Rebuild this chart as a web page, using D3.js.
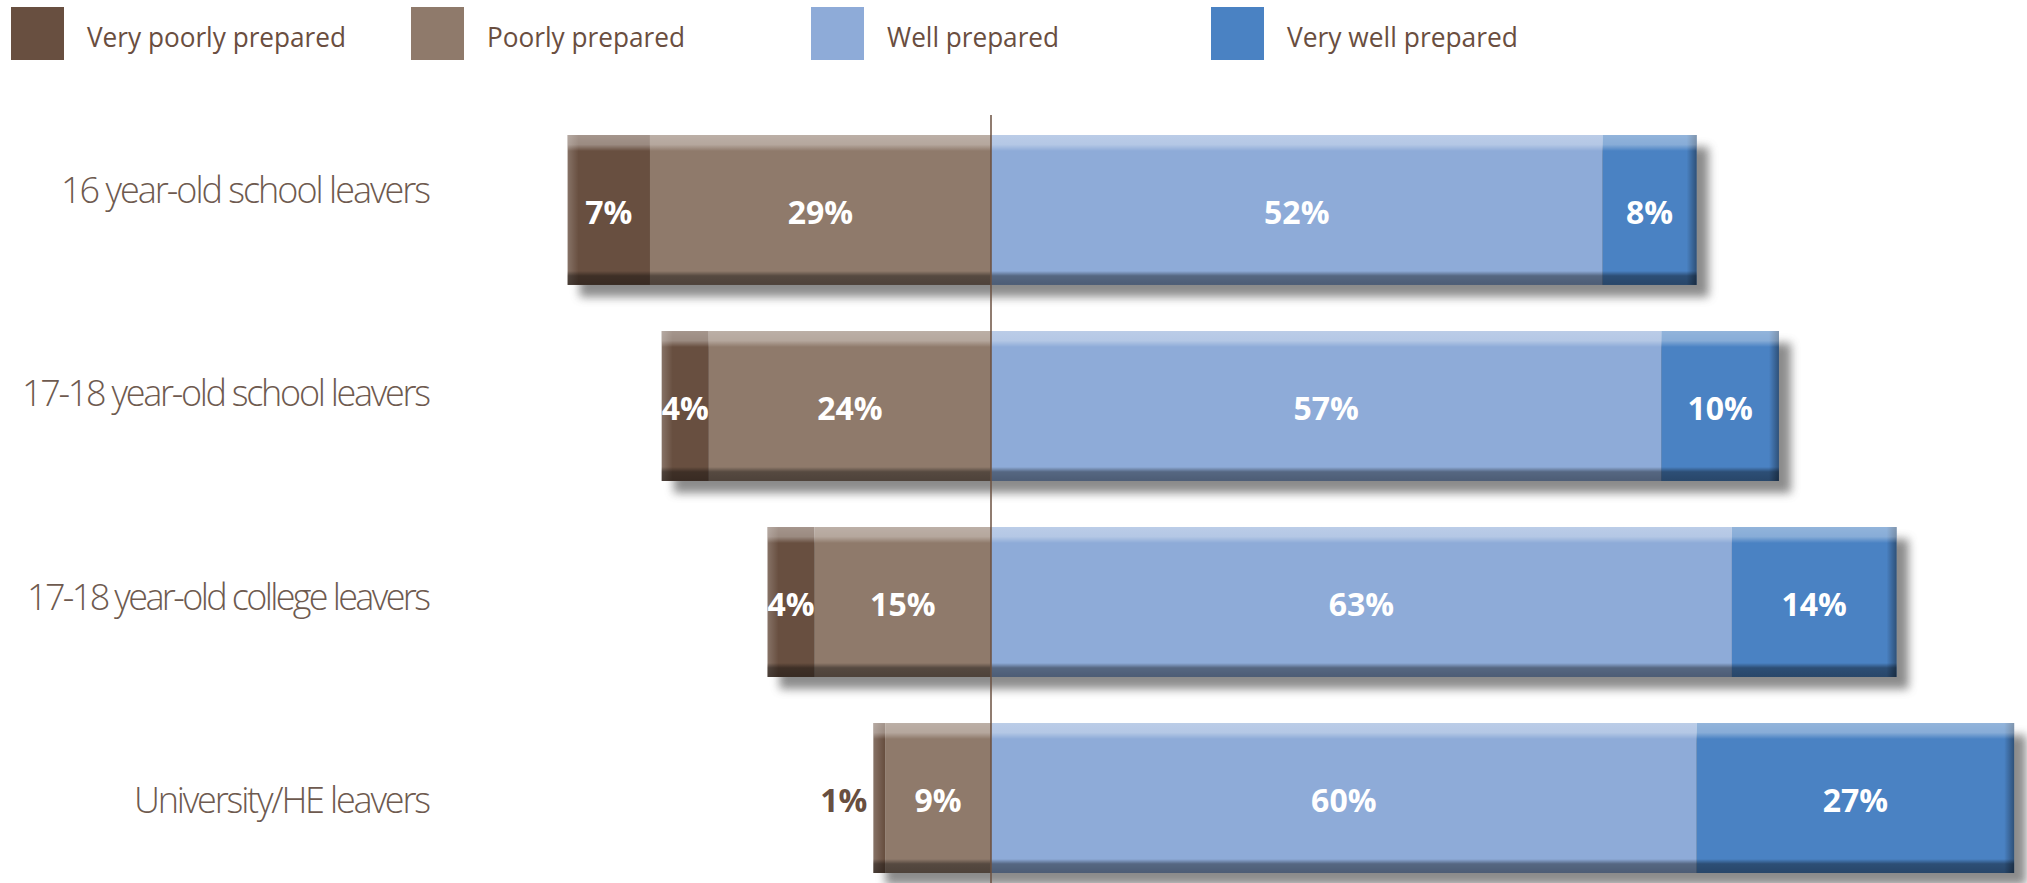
<!DOCTYPE html>
<html>
<head>
<meta charset="utf-8">
<script src="https://cdn.jsdelivr.net/npm/d3@7"></script>
<style>
  html, body { margin: 0; padding: 0; background: #ffffff; }
  svg { display: block; }
</style>
</head>
<body>
<svg id="chart" width="2027" height="883"></svg>
<script>
// Survey: how prepared are leavers for work (share of employers, %)
const categories = [
  "16 year-old school leavers",
  "17-18 year-old school leavers",
  "17-18 year-old college leavers",
  "University/HE leavers"
];
const seriesNames = ["Very poorly prepared", "Poorly prepared", "Well prepared", "Very well prepared"];
const veryPoorly = [7, 4, 4, 1];
const poorly     = [29, 24, 15, 9];
const well       = [52, 57, 63, 60];
const veryWell   = [8, 10, 14, 27];

const colors = ["#684f40", "#8f7a6b", "#8eabd8", "#4a82c3"];

// text widths used to tighten the tracking of the labels
const labelWidths  = [370, 409, 404, 297];
const legendWidths = [259, 198, 172, 231];

const W = 2027, H = 883;
const svg = d3.select("#chart");

// ---- scales ----
const x = d3.scaleLinear().domain([-40, 90]).range([520.6, 2049.4]);
const y = d3.scaleBand().domain(categories).range([135, 873]).paddingInner(0.235);
const yLabel = d3.scalePoint().domain(categories).range([203, 813]);
const legendX = d3.scaleBand().domain(seriesNames).range([11, 1611]);

// ---- diverging stack: negatives to the left of zero ----
const rows = categories.map((c, i) => {
  const vp = veryPoorly[i], p = poorly[i], w = well[i], vw = veryWell[i];
  return {
    cat: c,
    lo: -(vp + p),
    hi: w + vw,
    segs: [
      { s: 0, v: vp, a: -(vp + p), b: -p },
      { s: 1, v: p,  a: -p,        b: 0 },
      { s: 2, v: w,  a: 0,         b: w },
      { s: 3, v: vw, a: w,         b: w + vw }
    ]
  };
});

// ---- defs: shadow blur and bevel gradients ----
const defs = svg.append("defs");
defs.append("filter").attr("id", "soft").attr("x", "-10%").attr("y", "-30%")
    .attr("width", "120%").attr("height", "160%")
  .append("feGaussianBlur").attr("stdDeviation", 5);

function grad(id, vertical, stops) {
  const g = defs.append("linearGradient").attr("id", id)
    .attr("x1", 0).attr("y1", 0)
    .attr("x2", vertical ? 0 : 1).attr("y2", vertical ? 1 : 0);
  stops.forEach(s => g.append("stop").attr("offset", s[0])
    .attr("stop-color", s[1]).attr("stop-opacity", s[2]));
}
grad("gTop", true,  [[0, "#fff", 0.40], [0.6, "#fff", 0.34], [1, "#fff", 0]]);
grad("gBottom", true, [[0, "#000", 0], [0.35, "#000", 0.40], [1, "#000", 0.46]]);
grad("gRight", false, [[0, "#000", 0], [1, "#000", 0.38]]);
grad("gLeft", false, [[0, "#fff", 0.20], [1, "#fff", 0]]);

// ---- legend ----
const legend = svg.append("g").attr("class", "legend");
seriesNames.forEach((name, i) => {
  const lx = legendX(name);
  legend.append("rect")
    .attr("x", lx).attr("y", 7).attr("width", 53).attr("height", 53)
    .attr("fill", colors[i]);
  legend.append("text")
    .attr("x", lx + 76).attr("y", 47)
    .attr("font-family", "'Open Sans', sans-serif")
    .attr("font-size", 28)
    .attr("fill", "#6a4e3f")
    .attr("textLength", legendWidths[i])
    .attr("lengthAdjust", "spacingAndGlyphs")
    .text(name);
});

// ---- bars ----
const bars = svg.append("g").attr("class", "bars");
const bh = y.bandwidth();

// drop shadows first
bars.selectAll("rect.shadow").data(rows).join("rect")
  .attr("class", "shadow")
  .attr("x", d => x(d.lo) + 12)
  .attr("y", d => y(d.cat) + 12)
  .attr("width", d => x(d.hi) - x(d.lo))
  .attr("height", bh)
  .attr("fill", "#5e5e5e")
  .attr("opacity", 0.72)
  .attr("filter", "url(#soft)");

const barG = bars.selectAll("g.bar").data(rows).join("g").attr("class", "bar");

barG.selectAll("rect.seg").data(d => d.segs.map(s => ({ ...s, cat: d.cat }))).join("rect")
  .attr("class", "seg")
  .attr("x", s => x(s.a))
  .attr("y", s => y(s.cat))
  .attr("width", s => x(s.b) - x(s.a))
  .attr("height", bh)
  .attr("fill", s => colors[s.s]);

// bevel overlays across the whole bar
barG.append("rect")
  .attr("x", d => x(d.lo)).attr("y", d => y(d.cat))
  .attr("width", 11).attr("height", bh)
  .attr("fill", "url(#gLeft)");
barG.append("rect")
  .attr("x", d => x(d.hi) - 10).attr("y", d => y(d.cat))
  .attr("width", 10).attr("height", bh)
  .attr("fill", "url(#gRight)");
barG.append("rect")
  .attr("x", d => x(d.lo)).attr("y", d => y(d.cat))
  .attr("width", d => x(d.hi) - x(d.lo)).attr("height", 16)
  .attr("fill", "url(#gTop)");
barG.append("rect")
  .attr("x", d => x(d.lo)).attr("y", d => y(d.cat) + bh - 14)
  .attr("width", d => x(d.hi) - x(d.lo)).attr("height", 14)
  .attr("fill", "url(#gBottom)");

// value labels: centred in the segment, or just outside the bar when the
// segment is much narrower than its label
barG.selectAll("text.val").data(d => d.segs.map(s => ({ ...s, cat: d.cat }))).join("text")
  .attr("class", "val")
  .attr("y", s => y(s.cat) + bh / 2 + 14)
  .attr("font-family", "'Open Sans', sans-serif")
  .attr("font-weight", 700)
  .attr("font-size", 32)
  .text(s => s.v + "%")
  .each(function (s) {
    const t = d3.select(this);
    const tw = this.getComputedTextLength();
    const segW = x(s.b) - x(s.a);
    if (tw > segW + 12 && s.s === 0) {
      t.attr("x", x(s.a) - 6).attr("text-anchor", "end").attr("fill", colors[0]);
    } else {
      t.attr("x", x((s.a + s.b) / 2)).attr("text-anchor", "middle").attr("fill", "#ffffff");
    }
  });

// zero line
svg.append("line")
  .attr("x1", x(0)).attr("x2", x(0))
  .attr("y1", 115).attr("y2", H)
  .attr("stroke", "#6b5040").attr("stroke-width", 1.5);

// category labels
svg.append("g").attr("class", "cats")
  .selectAll("text").data(categories).join("text")
  .attr("x", (c, i) => 431 - labelWidths[i])
  .attr("y", c => yLabel(c))
  .attr("font-family", "'Open Sans', sans-serif")
  .attr("font-weight", 300)
  .attr("font-size", 36)
  .attr("fill", "#6e5a4f")
  .attr("textLength", (c, i) => labelWidths[i])
  .attr("lengthAdjust", "spacing")
  .text(c => c);
</script>
</body>
</html>
